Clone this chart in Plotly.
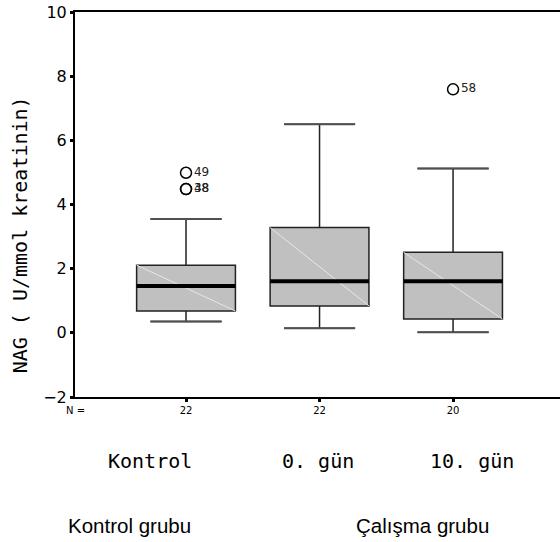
import plotly.graph_objects as go

# ---- data ----
categories = ["Kontrol", "0. gün", "10. gün"]
n_labels = ["22", "22", "20"]
positions = [1, 2, 3]
q1 = [0.68, 0.84, 0.43]
median = [1.46, 1.61, 1.61]
q3 = [2.11, 3.28, 2.51]
lower_whisker = [0.35, 0.14, 0.02]
upper_whisker = [3.55, 6.50, 5.12]

outlier_x = [1, 1, 1, 3]
outlier_y = [4.99, 4.48, 4.48, 7.59]
outlier_labels = ["49", "48", "38", "58"]

group_labels = ["Kontrol grubu", "Çalışma grubu"]

BOX_W = 0.74
CAP_FRAC = 0.72
MONO = "DejaVu Sans Mono"

fig = go.Figure()
for i in range(len(categories)):
    fig.add_trace(go.Box(
        x=[positions[i]], q1=[q1[i]], median=[median[i]], q3=[q3[i]],
        lowerfence=[lower_whisker[i]], upperfence=[upper_whisker[i]],
        width=BOX_W, whiskerwidth=CAP_FRAC,
        fillcolor="#c0c0c0", line=dict(color="#222222", width=1.5),
        boxpoints=False, showlegend=False, hoverinfo="skip",
    ))

shapes = []
for i in range(len(categories)):
    x0 = positions[i] - BOX_W / 2
    x1 = positions[i] + BOX_W / 2
    shapes.append(dict(type="line", xref="x", yref="y", x0=x0, x1=x1, y0=q3[i], y1=q1[i],
                       line=dict(color="#e6e6e6", width=1)))
    shapes.append(dict(type="line", xref="x", yref="y", x0=x0, x1=x1, y0=median[i], y1=median[i],
                       line=dict(color="black", width=4)))
    c0 = positions[i] - BOX_W * CAP_FRAC / 2
    c1 = positions[i] + BOX_W * CAP_FRAC / 2
    for wv in (lower_whisker[i], upper_whisker[i]):
        shapes.append(dict(type="line", xref="x", yref="y", x0=c0, x1=c1, y0=wv, y1=wv,
                           line=dict(color="#505050", width=2)))

fig.add_trace(go.Scatter(
    x=outlier_x, y=outlier_y, mode="markers+text", text=outlier_labels,
    textposition="middle right", textfont=dict(family="DejaVu Sans", size=12, color="#222222"),
    marker=dict(symbol="circle-open", size=11, color="black", line=dict(width=1.5)),
    showlegend=False, hoverinfo="skip", cliponaxis=False,
))

# label placement (paper coordinates)
cat_label_x = [0.1546, 0.501, 0.8186]
group_label_x = [0.113, 0.716]

annotations = []
annotations.append(dict(text="NAG ( U/mmol kreatinin)", xref="paper", yref="paper",
                        x=-0.1134, y=0.42, xanchor="center", yanchor="middle", textangle=-90,
                        showarrow=False, font=dict(family=MONO, size=20, color="black")))
annotations.append(dict(text="N =", xref="paper", yref="paper", x=0.0, y=-0.034,
                        xanchor="center", yanchor="middle", showarrow=False,
                        font=dict(family="DejaVu Sans", size=10, color="black")))
for i, c in enumerate(categories):
    annotations.append(dict(text=c, xref="paper", yref="paper", x=cat_label_x[i], y=-0.166,
                            xanchor="center", yanchor="middle", showarrow=False,
                            font=dict(family=MONO, size=20, color="black")))
for i, g in enumerate(group_labels):
    annotations.append(dict(text=g, xref="paper", yref="paper", x=group_label_x[i], y=-0.3325,
                            xanchor="center", yanchor="middle", showarrow=False,
                            font=dict(family="Liberation Sans", size=20.5, color="black")))

fig.update_layout(
    width=560, height=542,
    margin=dict(l=75, r=0, t=12, b=145),
    paper_bgcolor="white", plot_bgcolor="white",
    shapes=shapes, annotations=annotations,
    xaxis=dict(range=[0.1685, 3.801], tickvals=positions, ticktext=n_labels,
               showgrid=False, zeroline=False, showline=True, linecolor="black", linewidth=2,
               mirror=True, ticks="outside", ticklen=3, tickwidth=3, tickcolor="black",
               tickfont=dict(family="DejaVu Sans", size=10, color="black")),
    yaxis=dict(range=[-2, 10], tickvals=[-2, 0, 2, 4, 6, 8, 10],
               showgrid=False, zeroline=False, showline=True, linecolor="black", linewidth=2,
               ticks="outside", ticklen=3, tickwidth=3, tickcolor="black",
               tickfont=dict(family="DejaVu Sans", size=16, color="black")),
)

fig.write_html("out.html", config={"displayModeBar": False},
               post_script="document.body.style.margin='0';document.body.style.overflow='hidden';")
